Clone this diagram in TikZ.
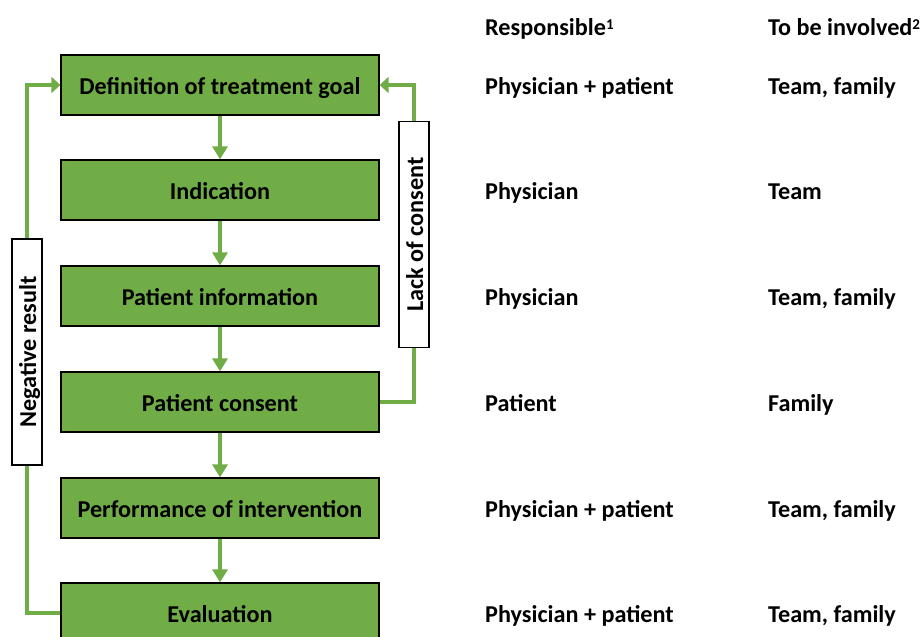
\documentclass[tikz,border=0pt]{standalone}
\usepackage{fontspec}
\setmainfont{Carlito}
\usepackage{xcolor}
\usetikzlibrary{arrows.meta}
\definecolor{leaf}{HTML}{70AD47}
\newcommand{\flowfont}{\fontsize{24.2}{28}\selectfont\bfseries}
\newcommand{\noteref}[1]{\raisebox{5.5pt}{\fontsize{15}{15}\selectfont #1}}
\tikzstyle{stepbox} = [draw=black, fill=leaf, line width=1.3pt, rectangle,
minimum width=318pt, minimum height=60pt, inner sep=0pt, text height=18pt, text depth=0pt,
font=\flowfont]
\tikzstyle{sidebox} = [draw=black, fill=white, line width=1.3pt, rectangle, rotate=90,
minimum width=226pt, minimum height=30pt, inner sep=0pt, text height=18pt, text depth=0pt,
font=\flowfont]
\tikzstyle{coltext} = [anchor=west, inner sep=0pt, text height=18pt, text depth=0pt,
font=\flowfont]
\tikzstyle{flow} = [leaf, line width=4pt, -{Triangle[width=15pt,length=13pt]}]
\tikzstyle{backflow} = [leaf, line width=4pt, -{Triangle[width=16pt,length=9pt]}]
\tikzstyle{feed} = [leaf, line width=4pt]

\begin{document}
\begin{tikzpicture}[x=1pt,y=-1pt]
        \useasboundingbox (0,0) rectangle (924,637);
        \clip (0,0) rectangle (924,637);
        \node[stepbox] (goal) at (220,85) {Definition of treatment goal};
        \node[stepbox] (indication) at (220,190) {Indication};
        \node[stepbox] (information) at (220,296) {Patient information};
        \node[stepbox] (consent) at (220,402) {Patient consent};
        \node[stepbox] (intervention) at (220,508) {Performance of intervention};
        \node[stepbox] (evaluation) at (220,613) {Evaluation};
        \foreach \a/\b in {goal/indication, indication/information, information/consent,
            consent/intervention, intervention/evaluation}
            \draw[flow] (\a) -- (\b);
        \node[sidebox] (negative) at (27,352) {Negative result};
        \node[sidebox] (lack) at (414,234.5) {Lack of consent};
        \draw[feed] (evaluation.west) -| (negative);
        \draw[backflow] (negative) |- (goal.west);
        \draw[feed] (consent.east) -| (lack);
        \draw[backflow] (lack) |- (goal.east);
        \coordinate (resp) at (485,0);
        \coordinate (inv) at (768,0);
        \node[coltext] (resphead) at (485,26) {Responsible\noteref{1}};
        \node[coltext] (invhead) at (768,26) {To be involved\noteref{2}};
        \foreach \s/\r/\i in {goal/Physician + patient/{Team, family},
            indication/Physician/Team, information/Physician/{Team, family},
            consent/Patient/Family, intervention/Physician + patient/{Team, family},
            evaluation/Physician + patient/{Team, family}} {
            \node[coltext] (\s-resp) at (\s -| resp) {\r};
            \node[coltext] (\s-inv) at (\s -| inv) {\i};
        }
    \end{tikzpicture}
\end{document}
